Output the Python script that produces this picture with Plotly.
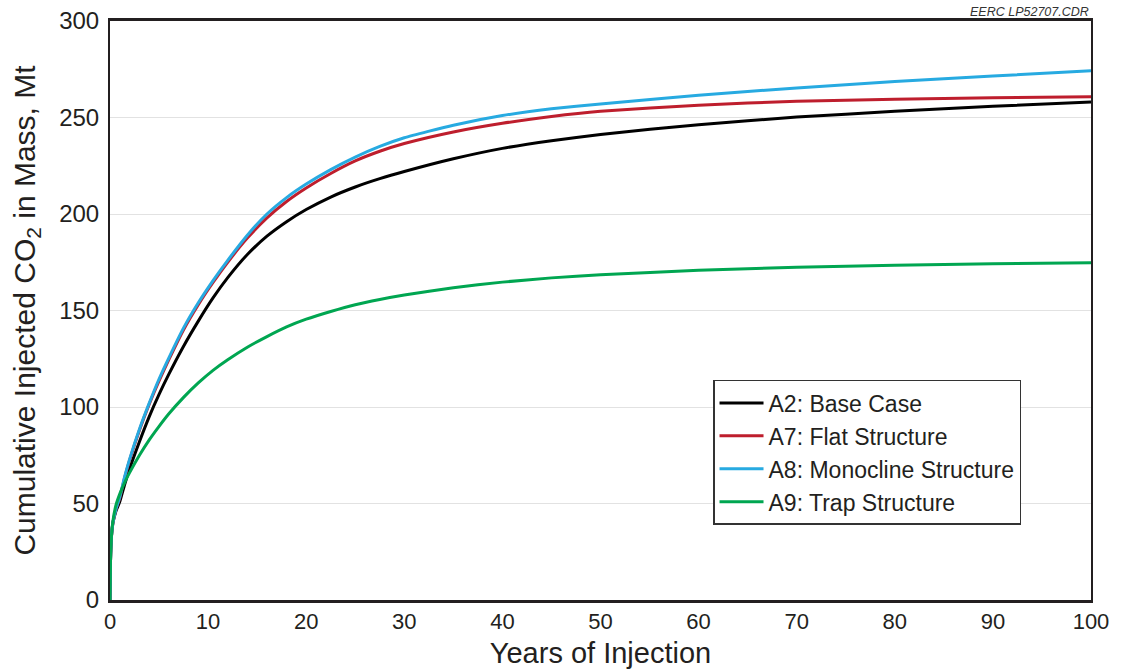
import plotly.graph_objects as go

# Simulation time axis (years of injection)
years = [0, 0.05, 0.15, 0.3, 0.6, 1, 1.5, 2, 3, 4, 5, 6, 7.5, 9, 10.5, 12,
         14, 16, 18, 20, 22.5, 25, 27.5, 30, 35, 40, 45, 50, 60, 70, 80, 90,
         100]

# Cumulative injected CO2 (Mt) per structural scenario
a2_base = [0, 20, 33, 40, 46, 51, 60, 68, 82, 95, 106.5, 117, 131.5, 144.5,
           156.5, 167, 179, 188.5, 196, 202.3, 208.8, 214, 218.3, 222, 228.6,
           234, 238, 241.2, 246.3, 250.2, 253.2, 255.8, 258]
a7_flat = [0, 20, 33, 40, 47, 53, 63.5, 72.5, 88, 101.5, 113.5, 124.5, 140,
           153, 164.5, 175, 187.5, 198, 206.5, 213.5, 221, 227.5, 232.5,
           236.5, 242.5, 247, 250.5, 253.2, 256.4, 258.4, 259.5, 260.2, 260.7]
a8_monocline = [0, 20, 33, 40, 47, 53.5, 64, 73, 88.5, 102, 114.5, 125.5,
                141, 154, 165.5, 176, 189, 200, 208.5, 215.5, 223, 229.5,
                235, 239.5, 246, 251, 254.5, 257, 261.5, 265.3, 268.6, 271.5,
                274.2]
a9_trap = [0, 20, 33, 41, 49, 55, 61, 66, 75, 83, 90, 96.5, 105, 112.5, 119,
           124.5, 131, 136.5, 141.5, 145.5, 149.5, 153, 155.7, 158, 161.8,
           164.7, 166.9, 168.5, 170.8, 172.4, 173.4, 174.2, 174.8]

series_names = ["A2: Base Case", "A7: Flat Structure",
                "A8: Monocline Structure", "A9: Trap Structure"]
series_values = [a2_base, a7_flat, a8_monocline, a9_trap]
series_colors = ["#000000", "#be1e2d", "#27aae1", "#00a651"]

y_ticks = [0, 50, 100, 150, 200, 250, 300]
x_ticks = [0, 10, 20, 30, 40, 50, 60, 70, 80, 90, 100]

FONT = "Liberation Sans, Arial, sans-serif"

fig = go.Figure()
for name, vals, col in zip(series_names, series_values, series_colors):
    fig.add_trace(go.Scatter(
        x=years, y=vals, mode="lines", name=name,
        line=dict(color=col, width=3, shape="spline", smoothing=0.5),
    ))

fig.update_layout(
    width=1122, height=669,
    margin=dict(l=110, r=31, t=21, b=69),
    paper_bgcolor="white", plot_bgcolor="white",
    font=dict(family=FONT, color="#231f20", size=22),
    showlegend=True,
    legend=dict(
        x=0.6147, y=0.38, xanchor="left", yanchor="top",
        bgcolor="white", bordercolor="#333333", borderwidth=1.5,
        font=dict(family=FONT, size=23, color="#231f20"),
        itemwidth=44,
    ),
    xaxis=dict(
        range=[0, 100], tickvals=x_ticks, showgrid=False, zeroline=False,
        showline=True, linecolor="#231f20", linewidth=2.5, mirror=True,
        ticks="", ticklabelstandoff=0, automargin=False,
        tickfont=dict(size=22),
        title=dict(text="Years of Injection", font=dict(size=29), standoff=12),
    ),
    yaxis=dict(
        range=[0, 300], tickvals=y_ticks, showgrid=True,
        gridcolor="#e2e2e2", gridwidth=1, zeroline=False,
        showline=True, linecolor="#231f20", linewidth=2, mirror=True,
        ticks="", ticklabelstandoff=4, automargin=False,
        tickfont=dict(size=24),
        title=dict(text="Cumulative Injected CO<sub>2</sub> in Mass, Mt",
                   font=dict(size=30), standoff=15),
    ),
    annotations=[dict(
        text="<i>EERC LP52707.CDR</i>", xref="paper", yref="paper",
        x=1, y=1, xanchor="right", yanchor="bottom", showarrow=False,
        font=dict(size=12.5, color="#333333"),
    )],
)

fig.write_html("out.html")
